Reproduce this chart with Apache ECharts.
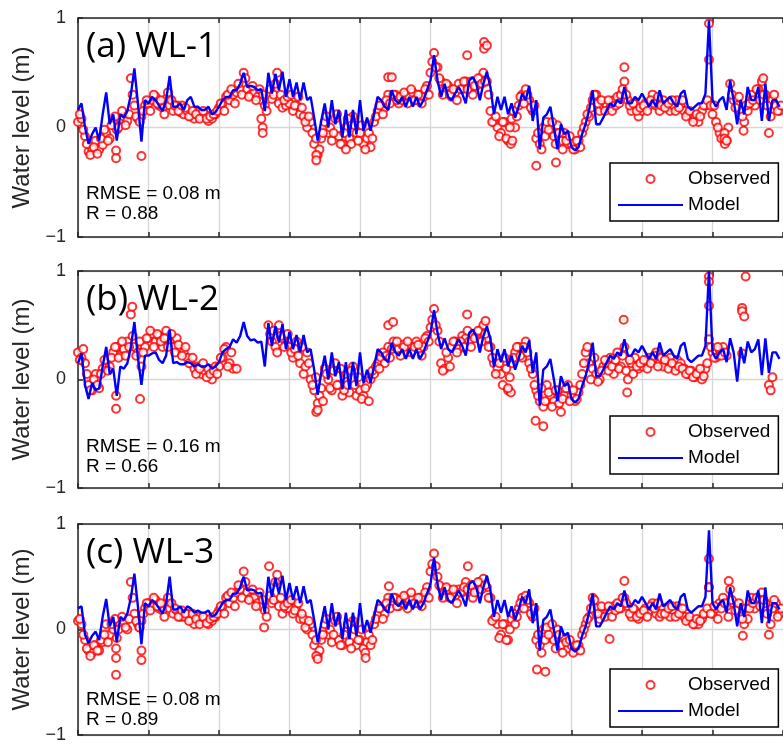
<!DOCTYPE html>
<html>
<head>
<meta charset="utf-8">
<script src="https://cdn.jsdelivr.net/npm/echarts@6/dist/echarts.min.js"></script>
<style>html,body{margin:0;padding:0;background:#fff;}#c{width:783px;height:744px;}</style>
</head>
<body>
<div id="c"></div>
<script>
// sample spacing (x units; one vertical grid interval = 1 unit)
var STEP = 0.05;
var panelTitles = ['(a) WL-1', '(b) WL-2', '(c) WL-3'];
var rmseTexts = ['RMSE = 0.08 m', 'RMSE = 0.16 m', 'RMSE = 0.08 m'];
var rTexts = ['R = 0.88', 'R = 0.66', 'R = 0.89'];
var yTicks = [-1, 0, 1];

var modelA = [
0.16, 0.22, 0.0, -0.15, -0.06, 0.0, -0.12, 0.12, 0.32, 0.03,
0.12, -0.12, 0.12, 0.09, 0.15, 0.3, 0.54, 0.22, -0.13, 0.25,
0.22, 0.28, 0.25, 0.2, 0.15, 0.25, 0.47, 0.19, 0.19, 0.22,
0.16, 0.25, 0.28, 0.19, 0.19, 0.16, 0.16, 0.19, 0.12, 0.14,
0.19, 0.25, 0.28, 0.28, 0.34, 0.34, 0.40, 0.50, 0.37, 0.38,
0.37, 0.34, 0.35, 0.15, 0.5, 0.31, 0.49, 0.34, 0.51, 0.28,
0.44, 0.28, 0.41, 0.25, 0.41, 0.25, 0.28, 0.09, -0.12, 0.06,
0.22, 0.0, 0.25, 0.03, 0.16, -0.09, 0.16, -0.09, 0.16, -0.06,
0.25, -0.03, 0.09, -0.03, 0.12, 0.28, 0.25, 0.19, 0.16, 0.34,
0.25, 0.22, 0.28, 0.19, 0.28, 0.19, 0.28, 0.19, 0.25, 0.34,
0.43, 0.66, 0.43, 0.28, 0.40, 0.28, 0.25, 0.31, 0.37, 0.31,
0.22, 0.43, 0.46, 0.40, 0.25, 0.40, 0.51, 0.37, 0.12, 0.28,
0.16, 0.28, 0.12, 0.22, 0.09, 0.19,
0.31, 0.25, 0.38, 0.06, 0.25, -0.2, 0.09, 0.12, 0.19, 0.0,
-0.2, 0.03, -0.06, -0.03, -0.18, -0.21, -0.18, -0.06, 0.03, 0.16,
0.34, 0.03, 0.03, 0.09, 0.16, 0.22, 0.19, 0.25, 0.22, 0.37,
0.22, 0.22, 0.28, 0.25, 0.31, 0.25, 0.19, 0.25, 0.19, 0.34,
0.22, 0.25, 0.28, 0.22, 0.19, 0.31, 0.34, 0.19, 0.16, 0.19,
0.22, 0.22, 0.31, 0.98, 0.25, 0.19, 0.25, 0.28, 0.16, 0.43,
0.25, 0.03, 0.25, 0.12, 0.37, 0.25, 0.25, 0.37, 0.06, 0.40,
0.06, 0.25, 0.25, 0.19
];

var modelB = [
0.15, 0.24, -0.05, -0.18, -0.03, -0.1, -0.08, 0.12, 0.3, 0.05,
0.1, -0.15, 0.12, 0.1, 0.15, 0.3, 0.53, 0.2, -0.05, 0.22,
0.22, 0.24, 0.25, 0.18, 0.15, 0.22, 0.46, 0.15, 0.16, 0.14,
0.14, 0.16, 0.15, 0.12, 0.14, 0.12, 0.12, 0.14, 0.1, 0.12,
0.16, 0.25, 0.28, 0.3, 0.37, 0.34, 0.40, 0.53, 0.4, 0.36,
0.37, 0.34, 0.35, 0.12, 0.52, 0.31, 0.49, 0.34, 0.51, 0.28,
0.44, 0.28, 0.41, 0.25, 0.41, 0.25, 0.28, 0.09, -0.14, 0.06,
0.22, 0.0, 0.25, 0.03, 0.16, -0.09, 0.16, -0.09, 0.16, -0.06,
0.25, -0.03, 0.09, -0.03, 0.12, 0.28, 0.25, 0.19, 0.16, 0.34,
0.25, 0.22, 0.28, 0.19, 0.28, 0.19, 0.28, 0.19, 0.25, 0.34,
0.43, 0.64, 0.43, 0.28, 0.38, 0.28, 0.25, 0.31, 0.37, 0.31,
0.22, 0.43, 0.46, 0.40, 0.25, 0.40, 0.49, 0.37, 0.12, 0.28,
0.16, 0.28, 0.12, 0.22, 0.09, 0.19,
0.31, 0.25, 0.36, 0.06, 0.25, -0.24, 0.09, 0.12, 0.19, 0.0,
-0.2, 0.03, -0.06, -0.03, -0.18, -0.21, -0.18, -0.06, 0.03, 0.16,
0.34, 0.03, 0.03, 0.09, 0.16, 0.22, 0.19, 0.25, 0.22, 0.37,
0.22, 0.22, 0.28, 0.25, 0.31, 0.25, 0.19, 0.25, 0.19, 0.34,
0.22, 0.25, 0.28, 0.22, 0.19, 0.31, 0.34, 0.19, 0.16, 0.19,
0.22, 0.22, 0.31, 1.0, 0.25, 0.19, 0.25, 0.28, 0.16, 0.38,
0.25, -0.02, 0.3, 0.15, 0.35, 0.25, 0.28, 0.37, 0.04, 0.38,
0.06, 0.25, 0.25, 0.19
];

var modelC = [
0.2, 0.22, -0.05, -0.13, -0.06, -0.02, -0.1, 0.12, 0.29, 0.03,
0.12, -0.12, 0.12, 0.09, 0.15, 0.3, 0.53, 0.22, -0.14, 0.25,
0.22, 0.28, 0.25, 0.2, 0.15, 0.25, 0.5, 0.19, 0.19, 0.22,
0.16, 0.22, 0.2, 0.16, 0.18, 0.16, 0.16, 0.18, 0.12, 0.14,
0.19, 0.25, 0.28, 0.28, 0.34, 0.34, 0.40, 0.50, 0.37, 0.38,
0.37, 0.34, 0.35, 0.15, 0.5, 0.31, 0.49, 0.34, 0.51, 0.28,
0.44, 0.28, 0.41, 0.25, 0.41, 0.25, 0.28, 0.09, -0.12, 0.06,
0.22, 0.0, 0.25, 0.03, 0.16, -0.09, 0.16, -0.09, 0.16, -0.06,
0.25, -0.03, 0.09, -0.03, 0.12, 0.28, 0.25, 0.19, 0.16, 0.34,
0.25, 0.22, 0.28, 0.19, 0.28, 0.19, 0.28, 0.19, 0.25, 0.34,
0.43, 0.68, 0.43, 0.28, 0.40, 0.28, 0.25, 0.31, 0.37, 0.31,
0.22, 0.43, 0.46, 0.40, 0.25, 0.40, 0.51, 0.37, 0.12, 0.28,
0.16, 0.28, 0.12, 0.22, 0.09, 0.19,
0.31, 0.25, 0.38, 0.06, 0.25, -0.2, 0.09, 0.12, 0.19, 0.0,
-0.2, 0.03, -0.06, -0.03, -0.18, -0.21, -0.18, -0.06, 0.03, 0.16,
0.34, 0.03, 0.03, 0.09, 0.16, 0.22, 0.19, 0.25, 0.22, 0.37,
0.22, 0.22, 0.28, 0.25, 0.31, 0.25, 0.19, 0.25, 0.19, 0.34,
0.22, 0.25, 0.28, 0.22, 0.19, 0.31, 0.34, 0.19, 0.16, 0.19,
0.22, 0.22, 0.31, 0.94, 0.25, 0.19, 0.25, 0.28, 0.16, 0.4,
0.25, 0.03, 0.25, 0.12, 0.37, 0.25, 0.25, 0.37, 0.06, 0.40,
0.06, 0.25, 0.25, 0.19
];

// observed, sampled at the same x grid as the model
var obsA = [
0.05, 0.08, -0.08, -0.22, -0.2, -0.12, -0.2, -0.16, -0.05, -0.1,
0.05, -0.02, 0.08, 0.1, 0.06, 0.45, 0.2, 0.08, 0.1, 0.2,
0.22, 0.25, 0.28, 0.2, 0.18, 0.26, 0.2, 0.15, 0.2, 0.14,
0.12, 0.15, 0.1, 0.08, 0.14, 0.1, 0.12, 0.06, 0.08, 0.12,
0.18, 0.22, 0.28, 0.25, 0.3, 0.32, 0.35, 0.5, 0.35, 0.3,
0.32, 0.28, 0.25, 0.2, 0.3, 0.26, 0.4, 0.22, 0.18, 0.2,
0.22, 0.15, 0.2, 0.12, 0.1, 0.0, 0.05, -0.15, -0.25, -0.1,
0.05, -0.05, -0.12, 0.08, -0.08, -0.15, 0.0, -0.1, 0.1, -0.05,
-0.05, -0.15, -0.1, -0.18, 0.05, 0.15, 0.2, 0.18, 0.3, 0.25,
0.3, 0.22, 0.25, 0.3, 0.28, 0.32, 0.25, 0.3, 0.28, 0.38,
0.5, 0.68, 0.55, 0.42, 0.35, 0.38, 0.28, 0.32, 0.4, 0.35,
0.42, 0.35, 0.3, 0.38, 0.45, 0.5, 0.42, 0.15, 0.05, 0.0,
-0.05, 0.05, -0.12, 0.08, 0.0, 0.2, 0.3, 0.35, 0.25, 0.15,
-0.1, -0.15, 0.0, 0.05, -0.05, -0.08, 0.02, -0.12, -0.05, -0.15,
-0.15, -0.2, -0.12, -0.05, 0.05, 0.1, 0.25, 0.3, 0.15, 0.2,
0.2, 0.18, 0.25, 0.28, 0.3, 0.42, 0.25, 0.15, 0.22, 0.1,
0.15, 0.22, 0.2, 0.3, 0.2, 0.15, 0.25, 0.18, 0.15, 0.2,
0.25, 0.2, 0.15, 0.12, 0.1, 0.08, 0.05, 0.15, 0.2, 0.62,
0.12, 0.05, -0.05, -0.1, -0.12, 0.4, 0.25, 0.2, 0.15, 0.05,
0.15, 0.3, 0.2, 0.35, 0.42, 0.3, -0.05, 0.25, 0.2, 0.15
];
// observed, sampled half a step later
var obsA2 = [
0.12, -0.02, -0.15, -0.25, -0.18, -0.24, -0.1, -0.02, -0.12, 0.02,
0.1, 0.0, 0.15, 0.02, 0.12, 0.3, 0.1, 0.05, 0.15, 0.25,
0.15, 0.3, 0.22, 0.25, 0.12, 0.32, 0.25, 0.2, 0.15, 0.2,
0.18, 0.1, 0.15, 0.12, 0.08, 0.15, 0.08, 0.1, 0.12, 0.15,
0.22, 0.15, 0.3, 0.35, 0.22, 0.4, 0.3, 0.45, 0.28, 0.38,
0.25, 0.35, 0.3, 0.15, 0.35, 0.3, 0.5, 0.3, 0.25, 0.28,
0.3, 0.2, 0.28, 0.18, 0.05, 0.1, -0.05, -0.1, -0.2, -0.05,
0.1, 0.0, -0.05, 0.12, -0.15, -0.05, 0.08, -0.15, 0.02, -0.12,
0.02, -0.2, -0.05, -0.1, 0.1, 0.2, 0.12, 0.25, 0.22, 0.3,
0.25, 0.28, 0.32, 0.22, 0.35, 0.25, 0.3, 0.22, 0.35, 0.3,
0.6, 0.55, 0.45, 0.3, 0.4, 0.3, 0.35, 0.25, 0.35, 0.42,
0.35, 0.42, 0.38, 0.45, 0.4, 0.42, 0.3, 0.05, 0.1, -0.08,
0.05, -0.1, 0.0, 0.15, 0.1, 0.28, 0.22, 0.3, 0.18, 0.2,
-0.05, -0.2, -0.08, -0.02, 0.05, -0.15, -0.05, -0.2, -0.12, -0.08,
-0.2, -0.12, -0.18, 0.0, 0.12, 0.18, 0.3, 0.22, 0.25, 0.15,
0.25, 0.15, 0.2, 0.22, 0.35, 0.3, 0.2, 0.22, 0.15, 0.18,
0.2, 0.15, 0.25, 0.22, 0.28, 0.2, 0.18, 0.22, 0.25, 0.15,
0.18, 0.25, 0.1, 0.15, 0.05, 0.12, 0.1, 0.2, 0.25, 0.2,
0.2, 0.0, -0.1, -0.15, 0.0, 0.3, 0.18, 0.28, 0.1, 0.2,
0.22, 0.25, 0.35, 0.25, 0.3, 0.2, 0.1, 0.3, 0.15, 0.2
];

var obsB = [
0.25, 0.2, 0.15, -0.05, -0.1, 0.05, -0.08, 0.1, 0.15, 0.12,
0.25, 0.3, 0.22, 0.28, 0.35, 0.6, 0.3, 0.25, 0.12, 0.3,
0.38, 0.42, 0.35, 0.4, 0.3, 0.45, 0.35, 0.3, 0.38, 0.28,
0.25, 0.2, 0.15, 0.1, 0.12, 0.05, 0.08, 0.1, 0.0, 0.12,
0.12, 0.2, 0.3, 0.15, 0.1, 0.1, null, null, null, null,
null, null, null, null, 0.5, 0.35, 0.3, 0.5, 0.38, 0.32,
0.3, 0.2, 0.35, 0.15, 0.05, 0.25, 0.0, -0.1, -0.22, -0.08,
0.1, 0.0, -0.1, 0.15, -0.05, -0.15, 0.05, -0.12, 0.12, -0.15,
-0.1, -0.15, -0.05, 0.0, 0.05, 0.15, 0.2, 0.15, 0.3, 0.28,
0.3, 0.28, 0.32, 0.25, 0.3, 0.27, 0.35, 0.28, 0.3, 0.4,
0.48, 0.65, 0.45, 0.15, 0.1, 0.2, 0.3, 0.35, 0.28, 0.4,
0.38, 0.35, 0.42, 0.4, 0.45, 0.5, 0.38, 0.3, 0.15, 0.1,
0.05, 0.2, -0.1, 0.15, 0.25, 0.3, 0.2, 0.35, 0.15, 0.05,
-0.1, -0.2, -0.25, -0.05, -0.15, -0.2, -0.1, -0.3, -0.15, -0.05,
-0.15, -0.2, -0.12, 0.05, 0.25, 0.15, 0.1, 0.05, 0.0, 0.12,
0.15, 0.2, 0.05, 0.25, 0.12, 0.3, 0.0, 0.15, 0.2, 0.1,
0.12, 0.15, 0.2, 0.18, 0.25, 0.15, 0.12, 0.18, 0.2, 0.12,
0.18, 0.15, 0.1, 0.05, 0.08, 0.02, 0.05, 0.0, 0.1, 0.68,
0.25, 0.2, 0.28, 0.3, 0.22, null, null, null, null, null,
null, null, null, null, null, null, -0.05, 0.02, null, null
];
var obsB2 = [
0.18, 0.28, 0.05, -0.1, 0.0, -0.05, 0.05, 0.18, 0.08, 0.2,
0.3, 0.2, 0.35, 0.22, 0.3, 0.4, 0.22, 0.35, 0.25, 0.38,
0.45, 0.3, 0.42, 0.35, 0.38, 0.3, 0.42, 0.25, 0.32, 0.22,
0.3, 0.15, 0.2, 0.05, 0.1, 0.15, 0.02, 0.05, 0.08, 0.05,
0.2, 0.28, 0.12, 0.25, null, null, null, null, null, null,
null, null, null, null, 0.42, 0.45, 0.25, 0.4, 0.3, 0.42,
0.25, 0.28, 0.22, 0.3, 0.12, 0.15, -0.05, 0.02, -0.15, -0.2,
0.05, -0.08, 0.08, -0.05, 0.1, -0.1, -0.05, 0.08, -0.05, 0.02,
-0.18, -0.08, -0.2, 0.08, 0.12, 0.1, 0.25, 0.22, 0.2, 0.35,
0.35, 0.22, 0.3, 0.35, 0.25, 0.3, 0.32, 0.22, 0.38, 0.35,
0.55, 0.5, 0.35, 0.08, 0.25, 0.12, 0.35, 0.25, 0.35, 0.3,
0.45, 0.3, 0.38, 0.45, 0.35, 0.42, 0.3, 0.2, 0.05, 0.15,
-0.05, 0.1, 0.02, 0.2, 0.3, 0.22, 0.3, 0.25, 0.1, -0.05,
-0.15, -0.08, -0.2, -0.12, -0.25, -0.1, -0.22, -0.18, -0.08, -0.2,
-0.1, -0.18, -0.05, 0.15, 0.3, 0.0, 0.2, -0.02, 0.08, 0.18,
0.08, 0.12, 0.18, 0.1, 0.22, 0.08, 0.18, 0.05, 0.12, 0.15,
0.18, 0.1, 0.15, 0.22, 0.12, 0.2, 0.18, 0.1, 0.15, 0.08,
0.12, 0.1, 0.05, 0.08, 0.02, 0.05, 0.1, 0.03, 0.15, 0.3,
0.2, 0.3, 0.22, 0.25, null, null, null, null, null, null,
null, null, null, null, null, null, -0.1, null, null, null
];

var obsC = [
0.08, 0.05, -0.1, -0.2, -0.22, -0.15, -0.2, -0.12, 0.05, -0.05,
0.0, -0.08, 0.05, 0.08, 0.0, 0.45, 0.15, 0.05, 0.08, 0.2,
0.25, 0.22, 0.28, 0.2, 0.18, 0.25, 0.2, 0.15, 0.18, 0.12,
0.12, 0.15, 0.1, 0.05, 0.12, 0.08, 0.1, 0.05, 0.08, 0.12,
0.18, 0.22, 0.3, 0.25, 0.3, 0.35, 0.38, 0.55, 0.35, 0.3,
0.3, 0.25, 0.22, 0.18, 0.28, 0.25, 0.45, 0.22, 0.15, 0.2,
0.2, 0.15, 0.22, 0.1, 0.1, 0.0, 0.05, -0.15, -0.25, -0.1,
0.05, -0.05, -0.12, 0.08, -0.1, -0.15, -0.02, -0.12, 0.08, -0.15,
-0.1, -0.18, -0.12, -0.15, 0.05, 0.15, 0.2, 0.15, 0.3, 0.25,
0.3, 0.22, 0.25, 0.3, 0.28, 0.3, 0.25, 0.3, 0.3, 0.4,
0.55, 0.72, 0.5, 0.4, 0.35, 0.38, 0.3, 0.32, 0.38, 0.35,
0.45, 0.35, 0.3, 0.4, 0.45, 0.48, 0.4, 0.3, 0.1, 0.05,
-0.05, 0.05, -0.1, 0.1, 0.05, 0.2, 0.3, 0.32, 0.25, 0.12,
-0.1, -0.15, 0.0, 0.02, -0.08, -0.1, 0.0, -0.15, -0.08, -0.18,
-0.15, -0.2, -0.15, -0.05, 0.05, 0.12, 0.3, 0.2, 0.1, 0.15,
0.15, 0.18, 0.22, 0.25, 0.2, 0.3, 0.22, 0.12, 0.18, 0.1,
0.15, 0.2, 0.18, 0.25, 0.15, 0.12, 0.2, 0.15, 0.12, 0.18,
0.22, 0.15, 0.12, 0.1, 0.08, 0.05, 0.05, 0.1, 0.15, 0.4,
0.15, 0.2, 0.25, 0.3, 0.22, 0.38, 0.25, 0.2, 0.12, 0.05,
0.1, 0.3, 0.2, 0.3, 0.35, 0.25, -0.05, 0.2, 0.25, 0.15
];
var obsC2 = [
0.1, -0.05, -0.18, -0.25, -0.15, -0.2, -0.1, -0.05, -0.12, 0.05,
0.1, 0.0, 0.12, 0.02, 0.1, 0.3, 0.08, 0.02, 0.15, 0.25,
0.18, 0.3, 0.22, 0.25, 0.12, 0.3, 0.25, 0.2, 0.12, 0.18,
0.15, 0.08, 0.15, 0.1, 0.05, 0.12, 0.06, 0.1, 0.12, 0.15,
0.22, 0.15, 0.32, 0.35, 0.22, 0.42, 0.3, 0.45, 0.28, 0.38,
0.22, 0.35, 0.28, 0.12, 0.32, 0.28, 0.52, 0.3, 0.22, 0.25,
0.28, 0.18, 0.25, 0.15, 0.02, 0.08, -0.05, -0.1, -0.2, -0.05,
0.1, 0.0, -0.05, 0.12, -0.15, -0.05, 0.05, -0.18, 0.0, -0.1,
0.0, -0.22, -0.05, -0.1, 0.1, 0.2, 0.1, 0.25, 0.2, 0.3,
0.22, 0.28, 0.32, 0.2, 0.35, 0.25, 0.3, 0.22, 0.35, 0.3,
0.62, 0.6, 0.42, 0.3, 0.4, 0.3, 0.38, 0.25, 0.35, 0.4,
0.38, 0.42, 0.35, 0.45, 0.38, 0.42, 0.3, 0.08, 0.12, -0.08,
0.05, -0.1, 0.0, 0.15, 0.12, 0.25, 0.2, 0.28, 0.15, 0.2,
-0.05, -0.22, -0.1, -0.05, 0.05, -0.18, -0.05, -0.22, -0.12, -0.1,
-0.22, -0.15, -0.2, 0.0, 0.1, 0.2, 0.28, 0.15, 0.22, 0.12,
0.22, 0.12, 0.18, 0.2, 0.3, 0.25, 0.15, 0.2, 0.12, 0.15,
0.18, 0.12, 0.22, 0.2, 0.25, 0.15, 0.15, 0.2, 0.22, 0.12,
0.15, 0.2, 0.08, 0.12, 0.05, 0.1, 0.08, 0.15, 0.2, 0.15,
0.22, 0.1, 0.2, 0.25, 0.12, 0.28, 0.18, 0.25, 0.1, 0.2,
0.2, 0.25, 0.3, 0.22, 0.28, 0.15, 0.05, 0.28, 0.12, 0.2
];

// additional (scattered) observations as [x, y]
var extraA = [[0.54,-0.21],[0.54,-0.28],[0.9,-0.26],[2.62,0.0],[2.62,-0.05],[2.6,0.08],[3.38,-0.25],[3.38,-0.3],[3.8,-0.2],[4.4,0.46],[4.45,0.46],[5.52,0.66],[5.76,0.78],[5.76,0.72],[5.8,0.75],[6.14,-0.15],[6.16,-0.12],[6.5,-0.35],[6.78,-0.32],[7.75,0.55],[8.95,0.95],[9.17,-0.05],[9.17,-0.1],[9.2,-0.12],[9.44,-0.03],[9.72,0.45]];
var extraB = [[0.54,-0.15],[0.54,-0.27],[0.88,-0.18],[0.77,0.67],[3.38,-0.3],[3.4,-0.28],[4.4,0.5],[4.47,0.53],[5.52,0.6],[5.78,0.54],[6.14,-0.12],[6.1,-0.08],[6.49,-0.38],[6.6,-0.43],[7.74,0.55],[7.79,-0.12],[8.95,0.95],[8.95,0.9],[8.95,0.37],[9.42,0.66],[9.42,0.63],[9.45,0.58],[9.47,0.95],[9.42,0.24]];
var extraC = [[0.54,-0.18],[0.54,-0.27],[0.54,-0.43],[0.9,-0.2],[0.9,-0.29],[0.87,0.02],[2.64,0.02],[2.71,0.6],[3.38,-0.25],[3.4,-0.28],[4.08,-0.27],[4.41,0.41],[5.53,0.6],[6.51,-0.38],[6.63,-0.4],[7.54,-0.09],[7.75,0.46],[8.95,0.67],[8.95,0.4],[9.23,0.46],[9.43,-0.06]];

var models = [modelA, modelB, modelC];
var obs1 = [obsA, obsB, obsC];
var obs2 = [obsA2, obsB2, obsC2];
var extras = [extraA, extraB, extraC];

var tops = [18, 271, 524];
var heights = [219, 217, 217];
var FONT = 'Liberation Sans, Arial, sans-serif';
var AXC = '#262626';
var GRIDC = '#d6d6d6';

function toXY(arr, offset) {
  var out = [];
  for (var i = 0; i < arr.length; i++) {
    if (arr[i] !== null) out.push([(i + offset) * STEP, arr[i]]);
  }
  return out;
}

var grids = [], xAxes = [], yAxes = [], series = [], legends = [], graphics = [];
for (var k = 0; k < 3; k++) {
  grids.push({left: 78, top: tops[k], width: 715, height: heights[k], containLabel: false});
  xAxes.push({
    type: 'value', gridIndex: k, min: 0, max: 10, interval: 1, position: 'bottom',
    axisLine: {show: true, onZero: false, lineStyle: {color: AXC, width: 1.5}},
    axisTick: {show: true, inside: true, length: 5, lineStyle: {color: AXC, width: 1.5}},
    axisLabel: {show: false},
    splitLine: {show: true, lineStyle: {color: GRIDC, width: 1.3}}
  });
  xAxes.push({
    type: 'value', gridIndex: k, min: 0, max: 10, interval: 1, position: 'top',
    axisLine: {show: true, onZero: false, lineStyle: {color: AXC, width: 1.5}},
    axisTick: {show: true, inside: true, length: 5, lineStyle: {color: AXC, width: 1.5}},
    axisLabel: {show: false},
    splitLine: {show: false}
  });
  yAxes.push({
    type: 'value', gridIndex: k, min: yTicks[0], max: yTicks[2], interval: 1,
    name: 'Water level (m)', nameLocation: 'middle', nameGap: 33, nameRotate: 90,
    nameTextStyle: {color: AXC, fontSize: 24, fontFamily: FONT},
    axisLine: {show: true, lineStyle: {color: AXC, width: 1.5}},
    axisTick: {show: true, inside: true, length: 5, lineStyle: {color: AXC, width: 1.5}},
    axisLabel: {color: AXC, fontSize: 18, fontFamily: FONT, margin: 12,
      formatter: function (v) { return v < 0 ? '\u2212' + Math.abs(v) : String(v); }},
    splitLine: {show: true, lineStyle: {color: GRIDC, width: 1.3}}
  });
  var sc = {
    name: 'Observed', type: 'scatter', xAxisIndex: 2 * k, yAxisIndex: k,
    symbol: 'emptyCircle', symbolSize: 8,
    itemStyle: {color: '#ff0000', borderColor: '#ff0000', borderWidth: 1.2},
    z: 2, silent: true
  };
  series.push(Object.assign({}, sc, {data: toXY(obs1[k], 0)}));
  series.push(Object.assign({}, sc, {data: toXY(obs2[k], 0.5)}));
  series.push(Object.assign({}, sc, {data: extras[k]}));
  series.push({
    name: 'Model', type: 'line', xAxisIndex: 2 * k, yAxisIndex: k,
    symbol: 'none', showSymbol: false,
    lineStyle: {color: '#0000ff', width: 2.4},
    itemStyle: {color: '#0000ff'},
    data: toXY(models[k], 0), z: 3, silent: true, animation: false
  });
  legends.push({
    data: [{name: 'Observed'}, {name: 'Model', itemStyle: {opacity: 0}}],
    orient: 'vertical', left: 610, top: tops[k] + 145,
    selectedMode: false, backgroundColor: '#ffffff', borderColor: '#000000', borderWidth: 1.5,
    borderRadius: 0, padding: [5, 8, 5, 7], itemGap: 4, itemWidth: 65, itemHeight: 8,
    lineStyle: {width: 2},
    textStyle: {fontSize: 19, fontFamily: FONT, color: '#000000', lineHeight: 22}
  });
  graphics.push({type: 'text', left: 86, top: tops[k] + 12, z: 10,
    style: {text: panelTitles[k], fontSize: 35, fontFamily: 'Open Sans, Noto Sans, sans-serif', fill: '#000000'}});
  graphics.push({type: 'text', left: 86, top: tops[k] + 166, z: 10,
    style: {text: rmseTexts[k], fontSize: 19, fontFamily: FONT, fill: '#000000'}});
  graphics.push({type: 'text', left: 86, top: tops[k] + 186, z: 10,
    style: {text: rTexts[k], fontSize: 19, fontFamily: FONT, fill: '#000000'}});
}

var chart = echarts.init(document.getElementById('c'), null, {renderer: 'canvas'});
chart.setOption({
  animation: false,
  backgroundColor: '#ffffff',
  grid: grids, xAxis: xAxes, yAxis: yAxes, series: series, legend: legends, graphic: graphics
});
</script>
</body>
</html>
